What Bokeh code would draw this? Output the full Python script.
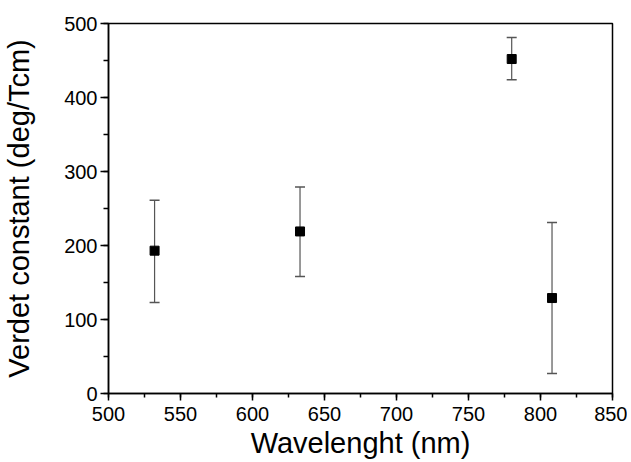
from bokeh.plotting import figure
from bokeh.models import ColumnDataSource, Whisker, TeeHead, SingleIntervalTicker, Range1d
from bokeh.embed import file_html
from bokeh.resources import INLINE

wavelength = [532, 633, 780, 808]
verdet = [193, 219, 452, 129]
verdet_upper = [261, 279, 481, 231]
verdet_lower = [123, 158, 424, 27]

x_ticks_interval = 50
y_ticks_interval = 100

src = ColumnDataSource(dict(x=wavelength, y=verdet, upper=verdet_upper, lower=verdet_lower))

p = figure(frame_width=504, frame_height=370, output_backend="svg", toolbar_location=None,
           x_range=Range1d(500, 850), y_range=Range1d(0, 500),
           min_border_left=106, min_border_right=15, min_border_top=23, min_border_bottom=10)

p.xgrid.visible = False
p.ygrid.visible = False
p.outline_line_color = "black"
p.outline_line_width = 1.5

p.xaxis.ticker = SingleIntervalTicker(interval=x_ticks_interval, num_minor_ticks=2)
p.yaxis.ticker = SingleIntervalTicker(interval=y_ticks_interval, num_minor_ticks=2)

for ax in (p.xaxis[0], p.yaxis[0]):
    ax.axis_line_color = "black"
    ax.axis_line_width = 1.5
    ax.major_tick_line_color = "black"
    ax.minor_tick_line_color = "black"
    ax.major_tick_line_width = 1.5
    ax.minor_tick_line_width = 1.5
    ax.major_tick_in = 0
    ax.minor_tick_in = 0
    ax.major_label_text_font = "Liberation Sans"
    ax.major_label_text_font_size = "20px"
    ax.major_label_text_color = "black"
    ax.axis_label_text_font = "Liberation Sans"
    ax.axis_label_text_font_style = "normal"
    ax.axis_label_text_color = "black"

p.xaxis.major_tick_out = 7
p.xaxis.minor_tick_out = 4
p.yaxis.major_tick_out = 8
p.yaxis.minor_tick_out = 5
p.xaxis.major_label_standoff = 6
p.yaxis.major_label_standoff = 3
p.xaxis.axis_label = "Wavelenght (nm)"
p.yaxis.axis_label = "Verdet constant (deg/Tcm)"
p.xaxis.axis_label_text_font_size = "29px"
p.yaxis.axis_label_text_font_size = "29px"
p.xaxis.axis_label_standoff = 3
p.yaxis.axis_label_standoff = 26

w = Whisker(source=src, base="x", upper="upper", lower="lower", dimension="height",
            line_color="#555555", line_width=1.2,
            upper_head=TeeHead(size=10, line_color="#555555", line_width=1.5),
            lower_head=TeeHead(size=10, line_color="#555555", line_width=1.5))
p.add_layout(w)

p.scatter(x="x", y="y", source=src, marker="square", size=9, fill_color="black", line_color="black")

open("out.html", "w").write(file_html(p, INLINE))
